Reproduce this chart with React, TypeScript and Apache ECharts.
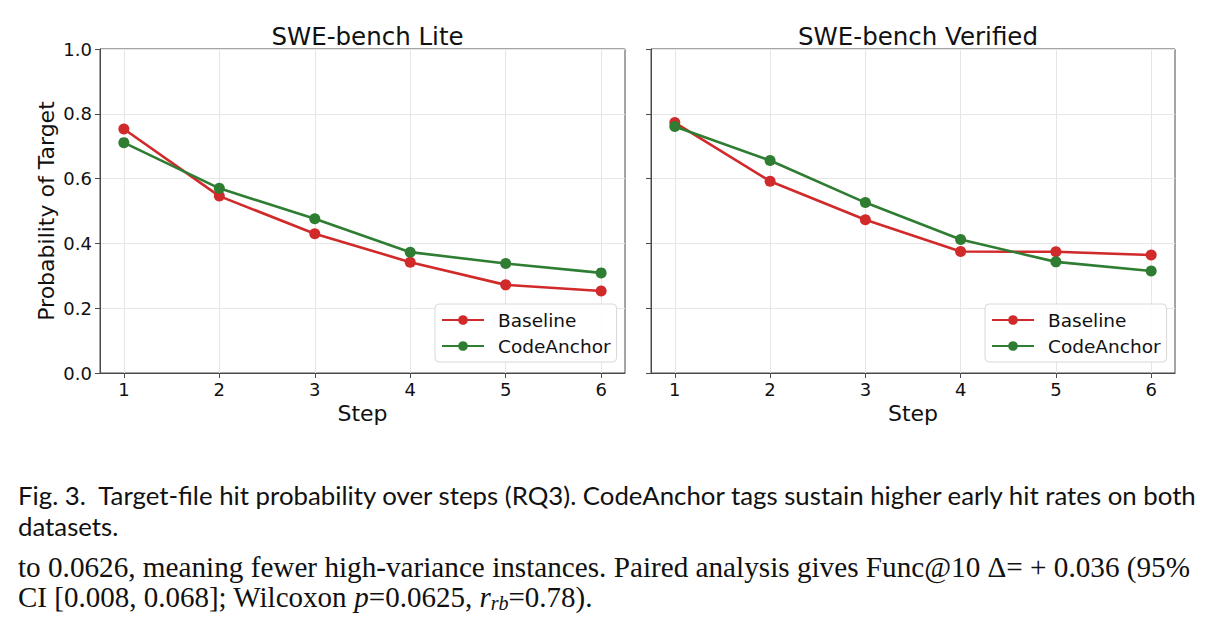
import React, { useEffect, useRef } from "react";
import * as echarts from "echarts";

const steps = [1, 2, 3, 4, 5, 6];
const panelTitles = ["SWE-bench Lite", "SWE-bench Verified"];
const seriesNames = ["Baseline", "CodeAnchor"];
const liteBaseline = [0.753, 0.546, 0.43, 0.342, 0.272, 0.253];
const liteCodeAnchor = [0.711, 0.57, 0.476, 0.373, 0.338, 0.309];
const verifiedBaseline = [0.773, 0.592, 0.473, 0.375, 0.374, 0.364];
const verifiedCodeAnchor = [0.761, 0.656, 0.526, 0.412, 0.343, 0.315];

const captionLine1 =
  "Fig. 3.  Target-file hit probability over steps (RQ3). CodeAnchor tags sustain higher early hit rates on both";
const captionLine2 = "datasets.";
const bodyLine1 =
  "to 0.0626, meaning fewer high-variance instances. Paired analysis gives Func@10 \u0394= + 0.036 (95%";

const RED = "#d12a2a";
const GREEN = "#2e7d32";
const SPINE = "#4a4a4a";
const SANS = "DejaVu Sans";

export default function App() {
  const ref = useRef<HTMLDivElement>(null);
  useEffect(() => {
    if (!ref.current) return;
    const chart = echarts.init(ref.current, null, { renderer: "svg" });
    const grids = [
      { left: 100, top: 49, width: 525, height: 324 },
      { left: 651, top: 49, width: 524, height: 324 },
    ];
    const pair = [
      [liteBaseline, liteCodeAnchor],
      [verifiedBaseline, verifiedCodeAnchor],
    ];
    const colors = [RED, GREEN];
    const series: any[] = [];
    pair.forEach((arrs, gi) => {
      arrs.forEach((arr, si) => {
        series.push({
          type: "line",
          name: seriesNames[si],
          xAxisIndex: gi,
          yAxisIndex: gi,
          data: steps.map((s, i) => [s, arr[i]]),
          symbol: "circle",
          symbolSize: 11,
          lineStyle: { width: 2.6, color: colors[si] },
          itemStyle: { color: colors[si] },
          z: 3 + si,
        });
      });
    });
    const option: any = {
      animation: false,
      backgroundColor: "#ffffff",
      title: panelTitles.map((t, i) => ({
        text: t,
        left: grids[i].left + grids[i].width / 2,
        top: 19,
        textAlign: "center",
        textStyle: { fontFamily: SANS, fontSize: 24.5, fontWeight: "normal", color: "#111" },
      })),
      grid: grids.map((g) => ({
        ...g,
        show: true,
        borderColor: SPINE,
        borderWidth: 1,
        backgroundColor: "transparent",
      })),
      legend: grids.map((g) => ({
        data: seriesNames,
        orient: "vertical",
        left: g.left + g.width - 190,
        top: 304,
        itemWidth: 42,
        itemHeight: 12,
        itemGap: 6,
        padding: [6, 6, 6, 6],
        borderColor: "#d8d8d8",
        borderWidth: 1,
        borderRadius: 4,
        backgroundColor: "rgba(255,255,255,0.85)",
        textStyle: {
          fontFamily: SANS,
          fontSize: 18.5,
          lineHeight: 20,
          color: "#111",
          padding: [0, 0, 0, 9],
        },
      })),
      xAxis: grids.map((_, i) => ({
        type: "value",
        gridIndex: i,
        min: 0.75,
        max: 6.25,
        name: "Step",
        nameLocation: "middle",
        nameGap: 28,
        nameTextStyle: { fontFamily: SANS, fontSize: 22, color: "#111" },
        axisLine: { show: true, lineStyle: { color: SPINE, width: 1 } },
        axisTick: { show: true, length: 5, lineStyle: { color: SPINE }, customValues: steps },
        axisLabel: {
          customValues: steps,
          fontFamily: SANS,
          fontSize: 18,
          color: "#111",
          margin: 7,
        },
        splitLine: { show: true, lineStyle: { color: "#e6e6e6", width: 1 } },
      })),
      yAxis: grids.map((_, i) => ({
        type: "value",
        gridIndex: i,
        min: 0,
        max: 1,
        interval: 0.2,
        name: i === 0 ? "Probability of Target" : "",
        nameLocation: "middle",
        nameGap: 43,
        nameTextStyle: { fontFamily: SANS, fontSize: 22, color: "#111" },
        axisLine: { show: true, lineStyle: { color: SPINE, width: 1 } },
        axisTick: { show: true, length: 5, lineStyle: { color: SPINE } },
        axisLabel: {
          show: i === 0,
          fontFamily: SANS,
          fontSize: 18,
          color: "#111",
          margin: 8,
          formatter: (v: number) => v.toFixed(1),
        },
        splitLine: { show: true, lineStyle: { color: "#e6e6e6", width: 1 } },
      })),
      series,
      graphic: [
        {
          type: "text",
          left: 18,
          top: 482,
          style: {
            text: captionLine1,
            fontFamily: "Lato",
            fontSize: 25.8,
            fill: "#111",
          },
        },
        {
          type: "text",
          left: 18,
          top: 513,
          style: { text: captionLine2, fontFamily: "Lato", fontSize: 25.8, fill: "#111" },
        },
        {
          type: "text",
          left: 18,
          top: 552,
          style: { text: bodyLine1, fontFamily: "Liberation Serif", fontSize: 29.2, fill: "#111" },
        },
        {
          type: "text",
          left: 18,
          top: 582,
          style: {
            text: "CI [0.008, 0.068]; Wilcoxon {i|p}=0.0625, {i|r}{sub|rb}=0.78).",
            fontFamily: "Liberation Serif",
            fontSize: 29,
            fill: "#111",
            rich: {
              i: { fontFamily: "Liberation Serif", fontStyle: "italic", fontSize: 29, fill: "#111" },
              sub: {
                fontFamily: "Liberation Serif",
                fontStyle: "italic",
                fontSize: 20,
                fill: "#111",
                padding: [12, 0, 0, 0],
              },
            },
          },
        },
      ],
    };
    chart.setOption(option);
    return () => chart.dispose();
  }, []);
  return (
    <div
      ref={ref}
      style={{ position: "absolute", left: 0, top: 0, width: 1215, height: 638 }}
    />
  );
}
